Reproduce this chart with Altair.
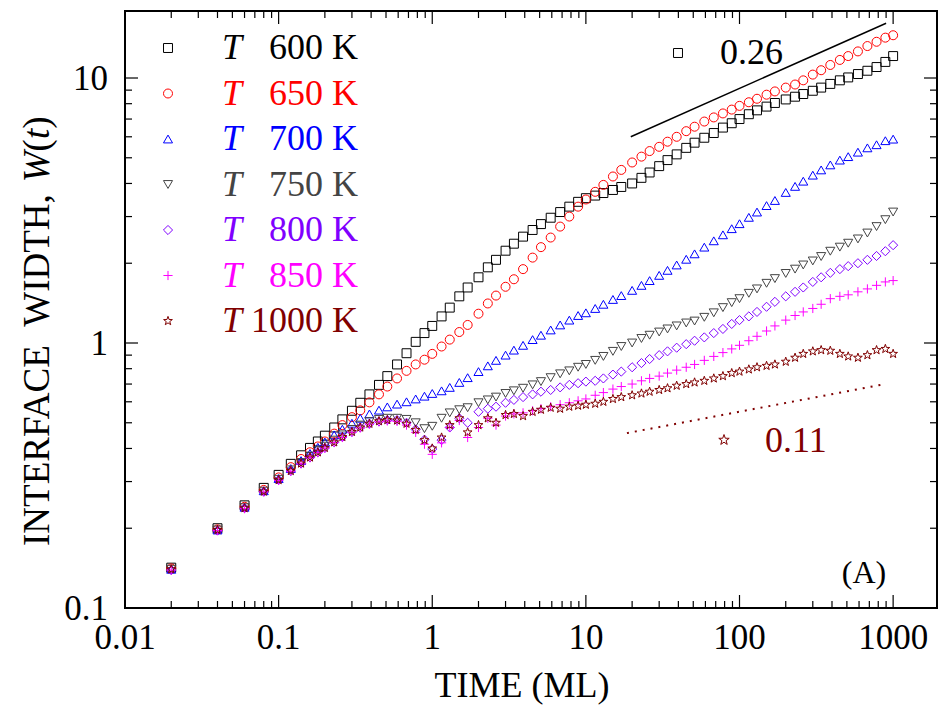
import altair as alt
import pandas as pd

# ---------------- data ----------------
TIME = [0.02, 0.04, 0.06, 0.08, 0.1, 0.12, 0.14, 0.16, 0.18,
        0.2, 0.23, 0.26, 0.3, 0.34, 0.39, 0.45, 0.51, 0.59, 0.68, 0.78, 0.89,
        1.0, 1.15, 1.3, 1.5, 1.7, 2.0, 2.3, 2.6, 3.0, 3.4, 3.9, 4.5, 5.1, 5.9, 6.8, 7.8, 8.9,
        10, 11.5, 13, 15, 17, 20, 23, 26, 30, 34, 39, 45, 51, 59, 68, 78, 89,
        100, 115, 130, 150, 170, 200, 230, 260, 300, 340, 390, 450, 510, 590, 680, 780, 890, 1000]

W_600 = [0.142, 0.200, 0.244, 0.284, 0.318, 0.35, 0.377, 0.402, 0.425,
         0.447, 0.48, 0.515, 0.555, 0.595, 0.64, 0.695, 0.75, 0.83, 0.915, 1.01, 1.09,
         1.16, 1.26, 1.36, 1.50, 1.62, 1.77, 1.93, 2.06, 2.23, 2.37, 2.52, 2.67, 2.81, 2.97, 3.12, 3.27, 3.41,
         3.52, 3.6, 3.68, 3.78, 3.88, 4.0, 4.2, 4.4, 4.65, 4.9, 5.15, 5.45, 5.7, 5.95, 6.2, 6.5, 6.75,
         7.0, 7.3, 7.55, 7.8, 8.05, 8.3, 8.5, 8.7, 8.95, 9.2, 9.5, 9.8, 10.05, 10.35, 10.65, 11.0, 11.5, 12.1]
W_650 = [0.141, 0.198, 0.241, 0.279, 0.311, 0.34, 0.365, 0.387, 0.407,
         0.425, 0.455, 0.49, 0.525, 0.557, 0.597, 0.64, 0.685, 0.735, 0.785, 0.83, 0.865,
         0.91, 0.97, 1.03, 1.10, 1.17, 1.29, 1.41, 1.51, 1.63, 1.74, 1.9, 2.1, 2.3, 2.5, 2.75, 3.0, 3.27,
         3.48, 3.72, 3.95, 4.25, 4.5, 4.8, 5.05, 5.3, 5.5, 5.75, 6.0, 6.3, 6.55, 6.85, 7.1, 7.35, 7.6,
         7.85, 8.1, 8.35, 8.65, 8.9, 9.2, 9.45, 9.8, 10.3, 10.7, 11.2, 11.7, 12.1, 12.6, 13.2, 13.7, 14.2, 14.5]
W_700 = [0.14, 0.197, 0.24, 0.277, 0.308, 0.336, 0.36, 0.383, 0.404,
         0.423, 0.45, 0.473, 0.498, 0.52, 0.54, 0.558, 0.574, 0.588, 0.60, 0.615, 0.63,
         0.645, 0.66, 0.68, 0.71, 0.74, 0.78, 0.82, 0.86, 0.9, 0.94, 0.98, 1.03, 1.07, 1.12, 1.17, 1.22, 1.27,
         1.3, 1.35, 1.4, 1.46, 1.51, 1.58, 1.65, 1.72, 1.8, 1.88, 1.97, 2.07, 2.17, 2.3, 2.43, 2.56, 2.7,
         2.82, 2.98, 3.12, 3.3, 3.45, 3.7, 3.9, 4.08, 4.3, 4.5, 4.7, 4.9, 5.05, 5.25, 5.45, 5.6, 5.8, 5.88]
W_750 = [0.14, 0.197, 0.239, 0.276, 0.306, 0.332, 0.354, 0.374, 0.392,
         0.408, 0.43, 0.45, 0.472, 0.49, 0.505, 0.515, 0.52, 0.52, 0.515, 0.50, 0.475,
         0.485, 0.52, 0.545, 0.56, 0.57, 0.595, 0.61, 0.625, 0.645, 0.66, 0.675, 0.695, 0.715, 0.74, 0.765, 0.785, 0.81,
         0.83, 0.86, 0.89, 0.93, 0.97, 1.0, 1.04, 1.07, 1.1, 1.13, 1.16, 1.19, 1.21, 1.25, 1.3, 1.36, 1.42,
         1.47, 1.54, 1.6, 1.68, 1.75, 1.83, 1.9, 1.97, 2.04, 2.12, 2.22, 2.3, 2.38, 2.47, 2.6, 2.75, 2.92, 3.12]
W_800 = [0.139, 0.196, 0.238, 0.275, 0.304, 0.329, 0.351, 0.37, 0.387,
         0.402, 0.422, 0.442, 0.462, 0.48, 0.496, 0.506, 0.512, 0.512, 0.50, 0.472, 0.432,
         0.398, 0.43, 0.48, 0.52, 0.50, 0.55, 0.565, 0.575, 0.595, 0.61, 0.625, 0.64, 0.655, 0.665, 0.68, 0.695, 0.705,
         0.715, 0.72, 0.735, 0.76, 0.78, 0.81, 0.84, 0.87, 0.9, 0.93, 0.96, 0.99, 1.02, 1.05, 1.09, 1.13, 1.18,
         1.22, 1.26, 1.31, 1.37, 1.43, 1.5, 1.56, 1.62, 1.7, 1.77, 1.84, 1.9, 1.95, 2.0, 2.06, 2.13, 2.22, 2.34]
W_850 = [0.139, 0.196, 0.237, 0.274, 0.303, 0.328, 0.35, 0.369, 0.386,
         0.401, 0.421, 0.44, 0.46, 0.478, 0.494, 0.504, 0.508, 0.506, 0.49, 0.46, 0.415,
         0.38, 0.42, 0.48, 0.51, 0.44, 0.48, 0.52, 0.49, 0.53, 0.54, 0.545, 0.555, 0.565, 0.575, 0.585, 0.595, 0.605,
         0.615, 0.635, 0.65, 0.67, 0.685, 0.70, 0.72, 0.735, 0.75, 0.77, 0.79, 0.81, 0.83, 0.86, 0.89, 0.92, 0.95,
         0.98, 1.02, 1.06, 1.11, 1.16, 1.22, 1.27, 1.31, 1.35, 1.4, 1.47, 1.5, 1.52, 1.56, 1.6, 1.65, 1.7, 1.72]
W_1000 = [0.14, 0.197, 0.238, 0.275, 0.304, 0.329, 0.351, 0.37, 0.387,
          0.402, 0.422, 0.442, 0.462, 0.48, 0.496, 0.507, 0.512, 0.51, 0.496, 0.47, 0.43,
          0.40, 0.44, 0.49, 0.52, 0.46, 0.49, 0.52, 0.50, 0.535, 0.54, 0.53, 0.55, 0.56, 0.57, 0.565, 0.575, 0.58,
          0.585, 0.59, 0.60, 0.615, 0.625, 0.635, 0.645, 0.655, 0.665, 0.675, 0.69, 0.70, 0.71, 0.72, 0.735, 0.75, 0.77,
          0.78, 0.795, 0.81, 0.82, 0.83, 0.85, 0.88, 0.91, 0.93, 0.94, 0.935, 0.91, 0.89, 0.88, 0.90, 0.94, 0.95, 0.91]

NAMES = ["600 K", "650 K", "700 K", "750 K", "800 K", "850 K", "1000 K"]
SERIES = [W_600, W_650, W_700, W_750, W_800, W_850, W_1000]
COLORS = ["#000000", "#ff0000", "#0000ff", "#444444", "#8000ff", "#ff00ff", "#800000"]
PLUS = "M-1,0L1,0M0,-1L0,1"
STAR = ("M0,-1L0.235,-0.324L0.951,-0.309L0.38,0.124L0.588,0.809L0,0.4"
        "L-0.588,0.809L-0.38,0.124L-0.951,-0.309L-0.235,-0.324Z")
SHAPES = ["square", "circle", "triangle-up", "triangle-down", "diamond", PLUS, STAR]
SIZES = [80, 85, 100, 100, 100, 90, 120]

# guide lines for the growth exponents
FIT026_T = [19.6, 900]
FIT026_W = [6.0, 16.1]
FIT011_T = [18.5, 887]
FIT011_W = [0.457, 0.70]

X_MAJOR = [0.01, 0.1, 1, 10, 100, 1000]
X_LABELS = ["0.01", "0.1", "1", "10", "100", "1000"]
Y_MAJOR = [0.1, 1, 10]
Y_LABELS = ["0.1", "1", "10"]

# ---------------- layout ----------------
W, H = 812, 597
FONT = "Liberation Serif"

rows = []
for name, vals in zip(NAMES, SERIES):
    assert len(vals) == len(TIME)
    for t, w in zip(TIME, vals):
        rows.append({"t": t, "w": w, "series": name})
df = pd.DataFrame(rows)

xscale = alt.Scale(type="log", domain=[0.01, 1930], nice=False)
yscale = alt.Scale(type="log", domain=[0.1, 17.9], nice=False)
cscale = alt.Scale(domain=NAMES, range=COLORS)
shscale = alt.Scale(domain=NAMES, range=SHAPES)
szscale = alt.Scale(domain=NAMES, range=SIZES)

points = alt.Chart(df).mark_point(filled=False, strokeWidth=1, opacity=1).encode(
    x=alt.X("t:Q", scale=xscale, axis=None),
    y=alt.Y("w:Q", scale=yscale, axis=None),
    color=alt.Color("series:N", scale=cscale, legend=None),
    shape=alt.Shape("series:N", scale=shscale, legend=None),
    size=alt.Size("series:N", scale=szscale, legend=None),
)

fit026 = alt.Chart(pd.DataFrame({"t": FIT026_T, "w": FIT026_W})).mark_line(
    color="black", strokeWidth=1.5).encode(
    x=alt.X("t:Q", scale=xscale, axis=None), y=alt.Y("w:Q", scale=yscale, axis=None))
fit011 = alt.Chart(pd.DataFrame({"t": FIT011_T, "w": FIT011_W})).mark_line(
    color="#800000", strokeWidth=2, strokeDash=[2, 6]).encode(
    x=alt.X("t:Q", scale=xscale, axis=None), y=alt.Y("w:Q", scale=yscale, axis=None))

# inward ticks on all four sides
x_minor = [m * 10.0 ** k for k in range(-2, 3) for m in range(2, 10)]
y_minor = [m * 10.0 ** k for k in range(-1, 1) for m in range(2, 10)]
MAJ, MIN = 13, 7
tick_layers = []
for vals, ln in ((X_MAJOR, MAJ), (x_minor, MIN)):
    d = pd.DataFrame({"v": vals})
    for y0, y1 in ((H, H - ln), (0, ln)):
        tick_layers.append(alt.Chart(d).mark_rule(color="black", strokeWidth=1.2).encode(
            x=alt.X("v:Q", scale=xscale, axis=None), y=alt.value(y0), y2=alt.value(y1)))
for vals, ln in ((Y_MAJOR, MAJ), (y_minor, MIN)):
    d = pd.DataFrame({"v": vals})
    for x0, x1 in ((0, ln), (W, W - ln)):
        tick_layers.append(alt.Chart(d).mark_rule(color="black", strokeWidth=1.2).encode(
            y=alt.Y("v:Q", scale=yscale, axis=None), x=alt.value(x0), x2=alt.value(x1)))

# tick labels (placed through the scales)
xlab = alt.Chart(pd.DataFrame({"v": X_MAJOR, "s": X_LABELS})).mark_text(
    font=FONT, fontSize=35, color="black", align="center", baseline="alphabetic").encode(
    x=alt.X("v:Q", scale=xscale, axis=None), y=alt.value(H + 41), text="s:N")
ylab = alt.Chart(pd.DataFrame({"v": Y_MAJOR, "s": Y_LABELS})).mark_text(
    font=FONT, fontSize=35, color="black", align="right", baseline="alphabetic", dy=12).encode(
    y=alt.Y("v:Q", scale=yscale, axis=None), x=alt.value(-17), text="s:N")

# legend (drawn by hand, top-left inside the frame)
leg = pd.DataFrame({"series": NAMES, "i": list(range(len(NAMES)))})
leg["py"] = 37 + leg["i"] * 45.5
leg_sym = alt.Chart(leg).mark_point(filled=False, strokeWidth=1, opacity=1).encode(
    x=alt.value(43), y=alt.Y("py:Q", scale=None, axis=None),
    color=alt.Color("series:N", scale=cscale, legend=None),
    shape=alt.Shape("series:N", scale=shscale, legend=None),
    size=alt.Size("series:N", scale=szscale, legend=None))
leg_T = alt.Chart(leg).mark_text(font=FONT, fontSize=36, fontStyle="italic", align="left",
                                 baseline="middle", text="T").encode(
    x=alt.value(97), y=alt.Y("py:Q", scale=None, axis=None),
    color=alt.Color("series:N", scale=cscale, legend=None))
leg_lab = alt.Chart(leg).mark_text(font=FONT, fontSize=36, align="right", baseline="middle").encode(
    x=alt.value(233), y=alt.Y("py:Q", scale=None, axis=None), text="series:N",
    color=alt.Color("series:N", scale=cscale, legend=None))

# annotations
def txt(s, x, y, size=36, color="black", style="normal", align="left", angle=0,
        baseline="middle"):
    return alt.Chart(pd.DataFrame({"s": [s]})).mark_text(
        font=FONT, fontSize=size, color=color, fontStyle=style, align=align,
        baseline=baseline, angle=angle).encode(x=alt.value(x), y=alt.value(y), text="s:N")

def sym(shape, x, y, color, size):
    return alt.Chart(pd.DataFrame({"s": [0]})).mark_point(
        shape=shape, filled=False, color=color, size=size, strokeWidth=1, opacity=1).encode(
        x=alt.value(x), y=alt.value(y))

ann = [
    sym("square", 553, 42, "black", 80),
    txt("0.26", 595, 42),
    sym(STAR, 599, 429, "#800000", 120),
    txt("0.11", 640, 430, color="#800000"),
    txt("(A)", 739, 562, size=32, align="center"),
    txt("TIME (ML)", 397, 686, size=36, align="center", baseline="alphabetic"),
]

# y-axis title with italic W and t, rotated
FS = 37
y0 = 535
pieces = [("INTERFACE\u00a0\u00a0WIDTH,\u00a0", "normal", 0.0),
          ("W", "italic", 9.832), ("(", "normal", 10.665),
          ("t", "italic", 10.998), (")", "normal", 11.276)]
ytitle = [txt(s, -87, y0 - off * FS, size=FS, style=st, angle=270) for s, st, off in pieces]

chart = alt.layer(
    points, fit026, fit011, *tick_layers, xlab, ylab, leg_sym, leg_T, leg_lab, *ann, *ytitle
).properties(
    width=W, height=H,
    padding={"left": 125, "top": 11, "right": 4, "bottom": 117},
    autosize=alt.AutoSizeParams(type="none"),
    background="white",
).configure_view(stroke="black", strokeWidth=2)

chart.save("out.html", embed_options={"renderer": "svg", "actions": False})
